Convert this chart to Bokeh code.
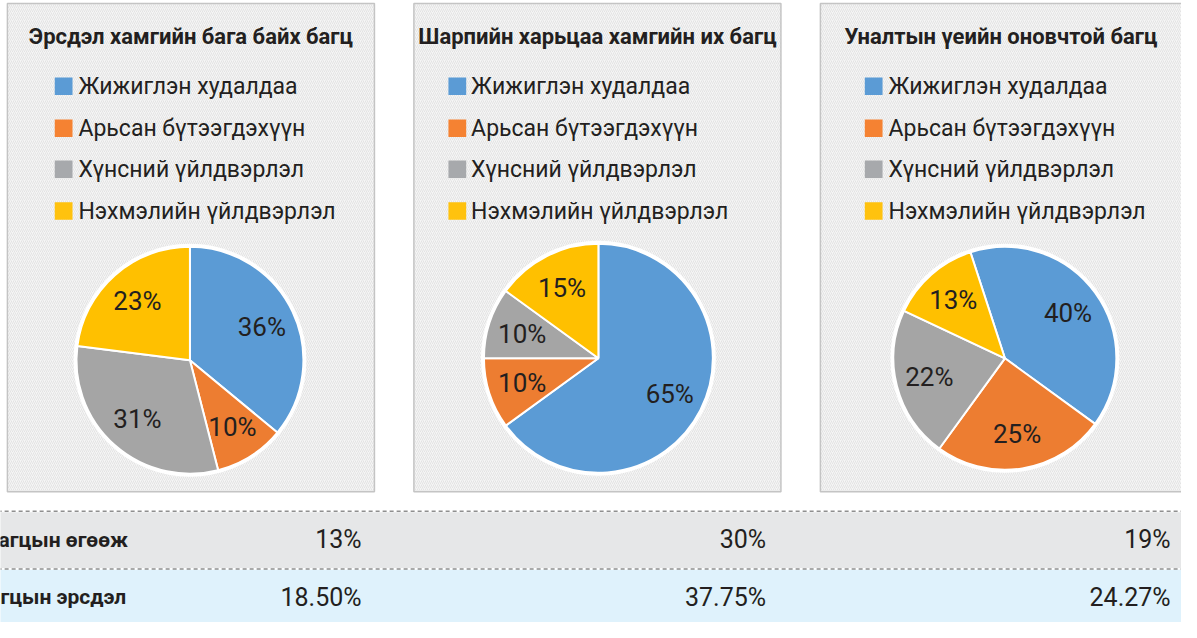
import math
from bokeh.plotting import figure
from bokeh.models import Range1d, ColumnDataSource
from bokeh.core.properties import value
from bokeh.embed import file_html
from bokeh.resources import INLINE

# ---------------- data ----------------
categories = ["Жижиглэн худалдаа", "Арьсан бүтээгдэхүүн", "Хүнсний үйлдвэрлэл", "Нэхмэлийн үйлдвэрлэл"]
titles = ["Эрсдэл хамгийн бага байх багц", "Шарпийн харьцаа хамгийн их багц", "Уналтын үеийн оновчтой багц"]
shares_min_risk = [36, 10, 31, 23]
shares_max_sharpe = [65, 10, 10, 15]
shares_drawdown = [40, 25, 22, 13]
row_labels = ["агцын өгөөж", "гцын эрсдэл"]
returns = ["13%", "30%", "19%"]
risks = ["18.50%", "37.75%", "24.27%"]

# ---------------- style ----------------
colors = ["#5b9bd5", "#ed7d31", "#a5a5a5", "#ffc000"]
legend_colors = ["#5b9bd5", "#f58232", "#a7a9ac", "#ffc20e"]
FONT = "Roboto"
TXT = "#231f20"

W, H = 1197, 638
FW, FH = 1181, 622
SX = FW / W


def Y(y):
    return H - y


p = figure(width=FW, height=FH, output_backend="svg", toolbar_location=None,
           x_range=Range1d(0, W), y_range=Range1d(0, H),
           x_axis_type=None, y_axis_type=None, min_border=0)
p.outline_line_color = None
p.grid.visible = False
p.background_fill_color = "white"
p.border_fill_color = "white"

# panel layout (reference pixel positions)
panel_left = [7, 419, 831]
panel_right = [379, 791, 1210]
panel_top, panel_bottom = 3, 504
title_x = [193, 605, 1014]
title_y = 37
leg_sq_x = [55, 454, 876]
leg_txt_x = [79, 477, 900]
leg_y = [88, 131, 173, 216]
pie_cx = [192, 606, 1018]
pie_cy = [369, 367, 367]
pie_r = [115, 116, 113]
first_angle = [0, 0, -18]   # degrees clockwise from 12 o'clock
label_frac = 0.70

# panels with hatched background
p.quad(left=panel_left, right=panel_right, top=[Y(panel_top)] * 3, bottom=[Y(panel_bottom)] * 3,
       fill_color="#f5f5f5", hatch_pattern="/", hatch_color="#e3e3e3", hatch_scale=4,
       hatch_weight=1, line_color="#c4c4c4", line_width=1.5)

all_shares = [shares_min_risk, shares_max_sharpe, shares_drawdown]

for k in range(3):
    # title
    p.text(x=[title_x[k]], y=[Y(title_y)], text=[titles[k]], text_font=value(FONT),
           text_font_size="22px", text_font_style="bold", text_color=TXT,
           text_align="center", text_baseline="middle")
    # legend
    sq = 18
    p.quad(left=[leg_sq_x[k]] * 4, right=[leg_sq_x[k] + sq] * 4,
           top=[Y(y - sq / 2) for y in leg_y], bottom=[Y(y + sq / 2) for y in leg_y],
           fill_color=legend_colors, line_color=None)
    p.text(x=[leg_txt_x[k]] * 4, y=[Y(y) for y in leg_y], text=categories, text_font=value(FONT),
           text_font_size="23px", text_color=TXT, text_align="left", text_baseline="middle")

    # pie
    shares = all_shares[k]
    total = float(sum(shares))
    cum = first_angle[k]
    starts, ends, lx, ly, labels = [], [], [], [], []
    for s in shares:
        a0 = cum
        a1 = cum + 360.0 * s / total
        cum = a1
        # clockwise-from-top -> bokeh's anticlockwise-from-x
        starts.append(math.radians(90 - a1))
        ends.append(math.radians(90 - a0))
        mid = math.radians((a0 + a1) / 2)
        lx.append(pie_cx[k] + label_frac * pie_r[k] * math.sin(mid))
        ly.append(Y(pie_cy[k] - label_frac * pie_r[k] * math.cos(mid)))
        labels.append(f"{s}%")
    src = ColumnDataSource(dict(start=starts, end=ends, color=colors))
    p.wedge(x=pie_cx[k], y=Y(pie_cy[k]), radius=pie_r[k] * SX, radius_units="screen",
            start_angle="start", end_angle="end", fill_color="color",
            line_color="white", line_width=2, source=src)
    p.scatter(x=[pie_cx[k]], y=[Y(pie_cy[k])], size=2 * pie_r[k] * SX + 3, marker="circle",
              fill_color=None, line_color="white", line_width=3)
    p.text(x=lx, y=ly, text=labels, text_font=value(FONT), text_font_size="26px",
           text_color=TXT, text_align="center", text_baseline="middle")

# ---------------- table ----------------
row_top = [525, 584]
row_bot = [582, 645]
row_fill = ["#e6e7e8", "#dff2fc"]
p.quad(left=[-10, -10], right=[W + 10, W + 10], top=[Y(t) for t in row_top],
       bottom=[Y(b) for b in row_bot], fill_color=row_fill, line_color=None)
for yy in [524, 583]:
    p.line(x=[-10, W + 10], y=[Y(yy), Y(yy)], line_color="#8f8f8f", line_width=1.5, line_dash="4 3")

row_y = [553, 612]
value_x = [366, 776, 1186]
p.text(x=[-2, 0], y=[Y(v) for v in row_y], text=row_labels, text_font=value(FONT),
       text_font_size="21px", text_font_style="bold", text_color=TXT,
       text_align="left", text_baseline="middle")
p.text(x=value_x, y=[Y(row_y[0])] * 3, text=returns, text_font=value(FONT),
       text_font_size="25px", text_color=TXT, text_align="right", text_baseline="middle")
p.text(x=value_x, y=[Y(row_y[1])] * 3, text=risks, text_font=value(FONT),
       text_font_size="25px", text_color=TXT, text_align="right", text_baseline="middle")

open("out.html", "w").write(file_html(p, INLINE))
